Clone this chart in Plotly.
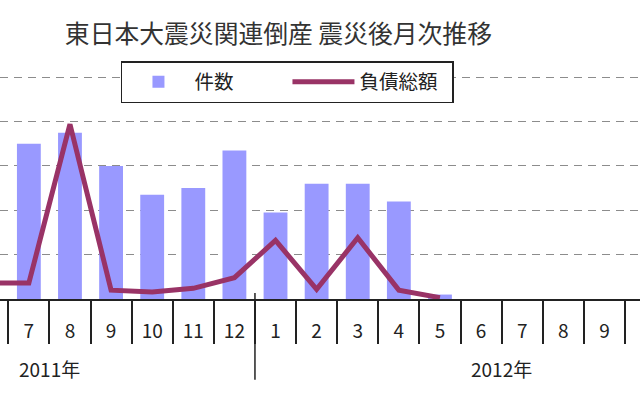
import plotly.graph_objects as go

# -----------------------------------
# Data
# months: 2011-03 .. 2011-12, 2012-01 .. 2012-12
# -----------------------------------
month_labels = ["3", "4", "5", "6", "7", "8", "9", "10", "11", "12",
                "1", "2", "3", "4", "5", "6", "7", "8", "9", "10", "11", "12"]
year_labels = ["2011年"] * 10 + ["2012年"] * 12

# bankruptcies (件数), hidden months left as None
counts = [None, None, None, None, 70, 75, 60, 47, 50, 67,
          39, 52, 52, 44, 2, None, None, None, None, None, None, None]

# total liabilities (負債総額, 億円)
debt = [None, None, None, 180, 180, 1970, 100, 80, 120, 240,
        660, 110, 690, 100, 15, None, None, None, None, None, None, None]

x = list(range(len(month_labels)))

FONT = "Noto Sans CJK JP"
BAR_COLOR = "#9999FF"
LINE_COLOR = "#993366"

# -----------------------------------
# Traces
# -----------------------------------
fig = go.Figure()
fig.add_trace(go.Bar(
    x=x, y=counts, name="件数",
    marker=dict(color=BAR_COLOR, line=dict(width=0)),
    width=0.58,
))
fig.add_trace(go.Scatter(
    x=x, y=debt, name="負債総額", yaxis="y2",
    mode="lines", line=dict(color=LINE_COLOR, width=5),
    connectgaps=False,
))

# category boundaries for the tick marks
boundaries = [i - 0.5 for i in x] + [x[-1] + 0.5]

# year labels centred under their months, divider between the years
years = []
for y in year_labels:
    if y not in years:
        years.append(y)
for yr in years:
    idx = [i for i, v in zip(x, year_labels) if v == yr]
    fig.add_annotation(
        x=sum(idx) / len(idx), y=-0.31, xref="x", yref="paper",
        yanchor="middle", text=yr, showarrow=False,
        font=dict(family=FONT, size=19, color="#222"),
    )
for i in range(1, len(year_labels)):
    if year_labels[i] != year_labels[i - 1]:
        fig.add_shape(
            type="line", xref="x", yref="paper",
            x0=x[i] - 0.5, x1=x[i] - 0.5, y0=0.027, y1=-0.36,
            line=dict(color="#222", width=1.5),
        )

# -----------------------------------
# Layout
# -----------------------------------
fig.update_layout(
    width=640, height=400,
    margin=dict(l=0, r=0, t=75, b=101, autoexpand=False),
    paper_bgcolor="white", plot_bgcolor="white",
    font=dict(family=FONT, color="#222"),
    title=dict(
        text="東日本大震災関連倒産 震災後月次推移",
        x=0.435, xanchor="center", y=0.915, yanchor="middle",
        font=dict(family=FONT, size=24.8, color="#333"),
    ),
    showlegend=True,
    legend=dict(
        orientation="h", x=0.189, y=1.062, xanchor="left", yanchor="top",
        bgcolor="white", bordercolor="#222", borderwidth=1.5,
        itemwidth=62, entrywidth=88,
        font=dict(family=FONT, size=19.5, color="#222"),
    ),
    bargap=0.42,
    xaxis=dict(
        range=[3.298, 18.866],
        tickmode="array", tickvals=x, ticktext=month_labels,
        ticks="", ticklabelstandoff=14,
        tickfont=dict(family=FONT, size=19, color="#222"),
        showline=True, linecolor="#222", linewidth=1.5,
        showgrid=False, zeroline=False,
        minor=dict(tickmode="array", tickvals=boundaries, ticks="outside",
                   ticklen=43, tickwidth=1.5, tickcolor="#222", showgrid=False),
    ),
    yaxis=dict(
        range=[0, 101], tickmode="array", tickvals=[0, 20, 40, 60, 80, 100],
        showticklabels=False,
        showgrid=True, gridcolor="#8c8c8c", gridwidth=1.3, griddash="8px,6px",
        zeroline=False, showline=False,
    ),
    yaxis2=dict(
        range=[0, 2525], overlaying="y", side="right",
        showticklabels=False, showgrid=False, zeroline=False, showline=False,
    ),
)

# page body has a default 8px margin; drop it so the chart fills the window
fig.write_html("out.html", config={"displayModeBar": False},
               post_script="document.body.style.margin='0';")
